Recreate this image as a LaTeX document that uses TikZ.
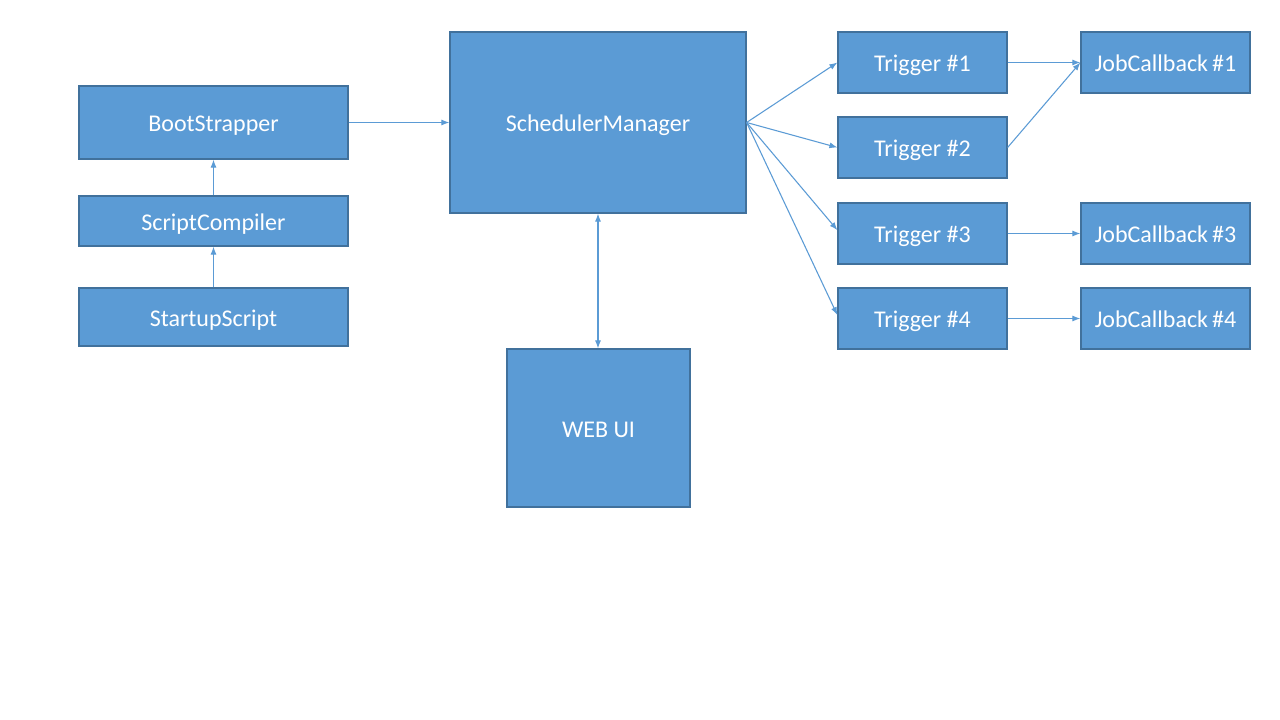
\documentclass[tikz,border=0pt]{standalone}
\usepackage{fontspec}
\setmainfont{Carlito}
\usetikzlibrary{arrows.meta}
\definecolor{boxfill}{HTML}{5B9BD5}
\definecolor{boxline}{HTML}{41719C}
\begin{document}
\begin{tikzpicture}[x=0.75pt,y=-0.75pt,
  box/.style={draw=boxline,line width=0.9pt,fill=boxfill,text=white,inner sep=0pt,
    font=\fontsize{18pt}{21pt}\selectfont,text height=17pt,text depth=3.5pt,minimum width=201.75pt},
  trig/.style={box,minimum width=126.75pt,minimum height=45.75pt},
  conn/.style={draw=boxfill,line width=0.8pt,-{Latex[length=6pt,width=4.5pt]}},
  conn2/.style={draw=boxfill,line width=0.8pt,{Latex[length=6pt,width=4.5pt]}-{Latex[length=6pt,width=4.5pt]}}]
\useasboundingbox (0,0) rectangle (1280,720);
\fill[white] (0,0) rectangle (1280,720);
\node[box,minimum height=54.75pt] (boot) at (213.5,122.5) {BootStrapper};
\node[box,minimum height=37.5pt] (comp) at (213.5,221) {ScriptCompiler};
\node[box,minimum height=43.5pt] (start) at (213.5,317) {StartupScript};
\node[box,minimum width=222pt,minimum height=135.75pt] (sched) at (598,122.5) {SchedulerManager};
\node[box,minimum width=137.25pt,minimum height=118.5pt] (web) at (598.5,428) {WEB UI};
\node[trig] (t1) at (922.5,62.5) {Trigger \#1};
\node[trig] (t2) at (922.5,147.5) {Trigger \#2};
\node[trig] (t3) at (922.5,233.5) {Trigger \#3};
\node[trig] (t4) at (922.5,318.5) {Trigger \#4};
\node[trig] (j1) at (1165.5,62.5) {JobCallback\,\#1};
\node[trig] (j3) at (1165.5,233.5) {JobCallback\,\#3};
\node[trig] (j4) at (1165.5,318.5) {JobCallback\,\#4};
\draw[conn] (start) -- (comp);
\draw[conn] (comp) -- (boot);
\draw[conn] (boot) -- (boot.east -| sched.west);
\draw[conn] (sched.east) -- (t1.west);
\draw[conn] (sched.east) -- (t2.west);
\draw[conn] (sched.east) -- ([yshift=2.5pt]t3.west);
\draw[conn] (sched.east) -- ([yshift=2.5pt]t4.west);
\draw[conn] (t1) -- (j1);
\draw[conn] (t2.east) -- (j1.west);
\draw[conn] (t3) -- (j3);
\draw[conn] (t4) -- (j4);
\draw[conn2] (sched.south) -- (sched.south |- web.north);
\end{tikzpicture}
\end{document}
